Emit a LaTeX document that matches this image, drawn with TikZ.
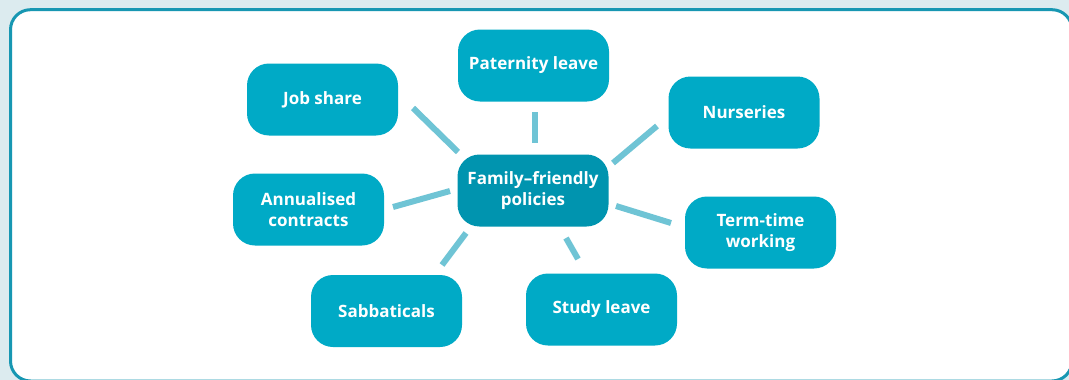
\documentclass[tikz,border=0pt]{standalone}
\usepackage{fontspec}
\setmainfont{Open Sans}
\definecolor{bgblue}{HTML}{DCEBEF}
\definecolor{frame}{HTML}{1797B2}
\definecolor{boxcyan}{HTML}{00AAC6}
\definecolor{hubteal}{HTML}{0094AF}
\definecolor{spoke}{HTML}{6FC4D5}
\tikzset{
  leaf/.style={fill=boxcyan,text=white,rounded corners=22pt,minimum width=151pt,
    minimum height=72pt,align=center,font=\fontsize{17}{21}\selectfont\bfseries,inner sep=0pt},
  hub/.style={leaf,fill=hubteal},
  link/.style={spoke,line width=6pt}
}
\begin{document}
\begin{tikzpicture}[x=1pt,y=-1pt,line join=round]
	\useasboundingbox (0,0) rectangle (1069,380);
	\clip (0,0) rectangle (1069,380);
	\fill[bgblue] (0,0) rectangle (1069,380);
	\draw[frame,fill=white,line width=3pt,rounded corners=20pt] (10.5,9.7) rectangle (1072,381);
	
	\node[hub] (hub) at (533,190.5) {Family--friendly\\policies};
	\node[leaf] (job) at (322.5,99.5) {Job share};
	\node[leaf] (pat) at (533.5,65.5) {Paternity leave};
	\node[leaf] (nur) at (744,112.5) {Nurseries};
	\node[leaf] (ann) at (308.5,209.5) {Annualised\\contracts};
	\node[leaf] (term) at (760.5,232.5) {Term-time\\working};
	\node[leaf] (sab) at (386.5,311) {Sabbaticals};
	\node[leaf] (stu) at (601.5,309.5) {Study leave};
	
	% spoke ends
	\coordinate (job1) at (413,108);  \coordinate (job2) at (458,152);
	\coordinate (pat1) at (535,112);  \coordinate (pat2) at (535,143);
	\coordinate (nur1) at (657,126);  \coordinate (nur2) at (613,163);
	\coordinate (ann1) at (393,207);  \coordinate (ann2) at (450,191);
	\coordinate (term1) at (616,206); \coordinate (term2) at (671,223);
	\coordinate (sab1) at (466,233);  \coordinate (sab2) at (442,265);
	\coordinate (stu1) at (566,238);  \coordinate (stu2) at (578,259);
	
	\draw[link] (job1)--(job2);
	\draw[link] (pat1)--(pat2);
	\draw[link] (nur1)--(nur2);
	\draw[link] (ann1)--(ann2);
	\draw[link] (term1)--(term2);
	\draw[link] (sab1)--(sab2);
	\draw[link] (stu1)--(stu2);
\end{tikzpicture}
\end{document}
